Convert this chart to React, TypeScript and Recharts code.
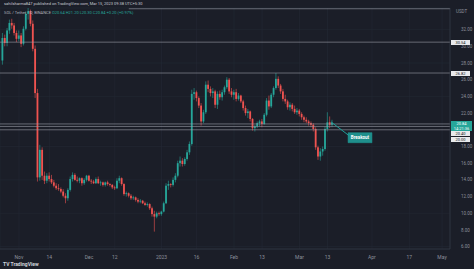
import React from 'react';
import {
  ComposedChart,
  Bar,
  XAxis,
  YAxis,
  CartesianGrid,
  ReferenceLine,
  ReferenceArea,
} from 'recharts';

// day 0 = Nov 1, 2022; first candle is Oct 25
const startDay = -7;

// [open, high, low, close]
const octCandles = [
  [28.3, 31.6, 27.8, 31.0],
  [31.0, 31.4, 30.0, 30.4],
  [30.4, 32.2, 30.0, 31.9],
  [31.9, 33.2, 31.5, 32.8],
  [32.8, 33.3, 32.1, 32.5],
  [32.5, 32.8, 31.3, 31.6],
  [31.6, 31.9, 30.5, 30.9],
];
const novCandles = [
  [30.9, 31.9, 30.6, 31.3],
  [31.3, 31.6, 29.9, 30.3],
  [30.3, 32.4, 30.1, 32.1],
  [32.1, 34.2, 31.9, 33.9],
  [33.9, 34.8, 33.2, 34.2],
  [34.2, 34.4, 32.4, 32.7],
  [32.7, 33.1, 29.4, 29.7],
  [29.7, 30.1, 23.8, 24.4],
  [24.4, 24.9, 13.8, 14.3],
  [14.3, 18.2, 13.9, 17.6],
  [17.6, 17.9, 14.0, 14.5],
  [14.5, 15.0, 13.5, 13.9],
  [13.9, 14.8, 13.6, 14.5],
  [14.5, 14.9, 13.8, 14.1],
  [14.1, 14.6, 13.5, 13.7],
  [13.7, 14.0, 13.1, 13.3],
  [13.3, 13.6, 12.8, 13.0],
  [13.0, 13.5, 12.7, 12.9],
  [12.9, 13.1, 12.4, 12.6],
  [12.6, 12.9, 11.9, 12.1],
  [12.1, 12.4, 11.2, 11.8],
  [11.8, 13.0, 11.5, 12.8],
  [12.8, 14.4, 12.6, 14.1],
  [14.1, 14.9, 13.8, 14.6],
  [14.6, 14.8, 13.9, 14.0],
  [14.0, 14.4, 13.7, 13.9],
  [13.9, 14.3, 13.6, 14.2],
  [14.2, 14.3, 13.3, 13.6],
  [13.6, 14.2, 13.4, 14.0],
  [14.0, 14.6, 13.8, 14.5],
];
const decCandles = [
  [14.5, 14.6, 13.8, 13.9],
  [13.9, 14.1, 13.5, 13.8],
  [13.8, 14.0, 13.5, 13.6],
  [13.6, 14.3, 13.5, 14.1],
  [14.1, 14.4, 13.5, 13.6],
  [13.6, 13.9, 13.3, 13.7],
  [13.7, 13.8, 13.2, 13.4],
  [13.4, 13.8, 13.2, 13.7],
  [13.7, 13.9, 13.3, 13.5],
  [13.5, 13.6, 13.2, 13.4],
  [13.4, 13.5, 12.9, 13.1],
  [13.1, 13.3, 12.8, 13.0],
  [13.0, 14.2, 12.9, 13.9],
  [13.9, 14.5, 13.6, 14.2],
  [14.2, 14.3, 13.3, 13.5],
  [13.5, 13.6, 12.1, 12.3],
  [12.3, 12.6, 12.0, 12.4],
  [12.4, 12.5, 11.9, 12.1],
  [12.1, 12.3, 11.6, 11.8],
  [11.8, 12.1, 11.6, 11.9],
  [11.9, 12.0, 11.4, 11.6],
  [11.6, 11.8, 11.2, 11.4],
  [11.4, 11.7, 11.2, 11.5],
  [11.5, 11.6, 11.1, 11.2],
  [11.2, 11.4, 10.9, 11.0],
  [11.0, 11.3, 10.8, 11.1],
  [11.1, 11.2, 10.4, 10.6],
  [10.6, 10.8, 9.6, 9.9],
  [9.9, 10.3, 7.8, 9.6],
  [9.6, 10.2, 9.4, 10.0],
  [10.0, 10.2, 9.7, 9.9],
];
const janCandles = [
  [9.9, 10.3, 9.7, 10.2],
  [10.2, 11.4, 10.1, 11.2],
  [11.2, 13.6, 11.1, 13.3],
  [13.3, 13.9, 12.8, 13.5],
  [13.5, 13.6, 13.1, 13.4],
  [13.4, 14.3, 13.2, 14.0],
  [14.0, 14.8, 13.7, 14.5],
  [14.5, 16.3, 14.3, 16.0],
  [16.0, 16.8, 15.6, 16.3],
  [16.3, 16.6, 15.6, 15.9],
  [15.9, 16.7, 15.7, 16.5],
  [16.5, 17.6, 16.3, 17.3],
  [17.3, 18.6, 17.0, 18.3],
  [18.3, 24.8, 18.1, 24.3],
  [24.3, 25.0, 23.6, 24.5],
  [24.5, 24.7, 23.4, 23.8],
  [23.8, 24.0, 22.6, 22.9],
  [22.9, 23.2, 20.5, 21.0],
  [21.0, 22.4, 20.8, 22.1],
  [22.1, 25.8, 21.9, 25.4],
  [25.4, 25.9, 24.5, 24.9],
  [24.9, 25.2, 24.0, 24.4],
  [24.4, 25.0, 23.8, 24.6],
  [24.6, 24.8, 22.6, 23.0],
  [23.0, 24.6, 22.5, 24.3],
  [24.3, 24.7, 23.6, 23.9],
  [23.9, 24.8, 23.5, 24.5],
  [24.5, 25.3, 24.2, 25.1],
  [25.1, 26.3, 24.9, 26.0],
  [26.0, 26.2, 24.3, 24.6],
  [24.6, 25.0, 23.9, 24.2],
];
const febCandles = [
  [24.2, 24.8, 23.6, 24.5],
  [24.5, 24.9, 23.4, 23.7],
  [23.7, 24.4, 23.5, 24.1],
  [24.1, 24.2, 23.2, 23.4],
  [23.4, 23.6, 22.3, 22.6],
  [22.6, 22.9, 21.7, 22.0],
  [22.0, 22.5, 21.4, 22.2],
  [22.2, 22.3, 21.0, 21.3],
  [21.3, 21.4, 19.9, 20.2],
  [20.2, 20.6, 19.8, 20.4],
  [20.4, 21.0, 20.2, 20.8],
  [20.8, 21.2, 20.4, 21.0],
  [21.0, 21.3, 20.3, 20.7],
  [20.7, 22.0, 20.6, 21.8],
  [21.8, 23.8, 21.6, 23.5],
  [23.5, 24.1, 22.4, 22.8],
  [22.8, 24.4, 22.6, 24.2],
  [24.2, 25.2, 23.9, 25.0],
  [25.0, 26.8, 24.8, 26.1],
  [26.1, 26.4, 25.0, 25.3],
  [25.3, 25.5, 24.3, 24.6],
  [24.6, 24.9, 23.4, 23.7],
  [23.7, 24.2, 23.1, 23.4],
  [23.4, 23.6, 22.4, 22.7],
  [22.7, 23.3, 22.3, 23.0],
  [23.0, 23.2, 22.2, 22.5],
  [22.5, 22.9, 21.9, 22.1],
  [22.1, 22.6, 21.8, 22.3],
];
const marCandles = [
  [22.3, 22.5, 21.6, 21.9],
  [21.9, 22.1, 21.2, 21.5],
  [21.5, 21.7, 20.9, 21.2],
  [21.2, 21.5, 20.8, 21.0],
  [21.0, 21.2, 20.5, 20.8],
  [20.8, 21.0, 20.3, 20.6],
  [20.6, 20.8, 19.8, 20.1],
  [20.1, 20.3, 17.6, 17.9],
  [17.9, 18.1, 16.4, 16.8],
  [16.8, 17.8, 16.3, 17.4],
  [17.4, 18.0, 16.9, 17.7],
  [17.7, 20.4, 17.5, 20.1],
  [20.1, 22.1, 19.8, 20.9],
  [20.9, 21.6, 20.2, 20.6],
  [20.6, 21.2, 20.3, 20.84],
];

const tickDays = [0, 13, 30, 41, 61, 76, 92, 104, 120, 132, 151, 167, 181];
const tickLabels = ['Nov', '14', 'Dec', '12', '2023', '16', 'Feb', '13', 'Mar', '13', 'Apr', '17', 'May'];
// 20.00 sits under the price labels, so it is left out as on the reference
const priceTicks = [6, 8, 10, 12, 14, 16, 18, 22, 24, 26, 28, 30, 32];

// horizontal levels drawn on the chart
const levels = [30.5, 26.8, 20.7, 20.4, 20.0];

const UP = '#26a69a';
const DOWN = '#ef5350';
const BG = '#1b1e28';
const TEXT = '#8c909b';

const data = [...octCandles, ...novCandles, ...decCandles, ...janCandles, ...febCandles, ...marCandles].map(
  ([open, high, low, close], i) => ({ day: startDay + i, open, high, low, close })
);

const Candle = (props: any) => {
  const { x, y, width, height, payload } = props;
  const { open, high, low, close } = payload;
  const color = close >= open ? UP : DOWN;
  const cx = x + width / 2;
  const k = high === low ? 0 : height / (high - low);
  const top = y + (high - Math.max(open, close)) * k;
  const h = Math.max(Math.abs(open - close) * k, 0.7);
  return (
    <g>
      <line x1={cx} x2={cx} y1={y} y2={y + height} stroke={color} strokeWidth={0.6} />
      <rect x={cx - 0.9} y={top} width={1.8} height={h} fill={color} />
    </g>
  );
};

const axisBox = (top: number, text: string) => (
  <div
    style={{
      position: 'absolute',
      left: 451,
      top,
      width: 19,
      height: 5,
      background: '#e8e9ec',
      color: '#131722',
      fontSize: 4,
      lineHeight: '5px',
      textAlign: 'center',
    }}
  >
    {text}
  </div>
);

export default function App() {
  return (
    <div
      style={{
        position: 'absolute',
        left: 0,
        top: 0,
        width: 474,
        height: 269,
        background: BG,
        fontFamily: 'Roboto, sans-serif',
        overflow: 'hidden',
      }}
    >
      <ComposedChart width={474} height={269} data={data} margin={{ top: 8, right: 0, bottom: 7, left: 0 }}>
        <CartesianGrid stroke="#242834" strokeWidth={0.6} />
        <XAxis
          type="number"
          dataKey="day"
          domain={[-8.1, 184.4]}
          allowDataOverflow
          ticks={tickDays}
          tickFormatter={(v) => tickLabels[tickDays.indexOf(v)]}
          tickLine={false}
          axisLine={{ stroke: '#3a3e4a', strokeWidth: 0.6 }}
          tick={{ fontSize: 5, fill: TEXT }}
          tickMargin={0}
          height={13}
        />
        <YAxis
          orientation="right"
          domain={[5.72, 34.59]}
          allowDataOverflow
          ticks={priceTicks}
          tickFormatter={(v) => v.toFixed(2)}
          tickLine={false}
          axisLine={{ stroke: '#3a3e4a', strokeWidth: 0.6 }}
          tick={{ fontSize: 4.5, fill: TEXT }}
          tickMargin={5}
          width={24}
        />
        <ReferenceLine
          segment={[
            { x: 47, y: 34.5 },
            { x: 184.4, y: 34.5 },
          ]}
          stroke="#8a8e99"
          strokeWidth={0.7}
        />
        {levels.map((v) => (
          <ReferenceLine key={v} y={v} stroke="#9a9ea8" strokeWidth={0.6} />
        ))}
        <Bar dataKey={(d: any) => [d.low, d.high]} barSize={2} shape={Candle} isAnimationActive={false} />
        <ReferenceLine
          segment={[
            { x: 133.5, y: 20.95 },
            { x: 141.2, y: 19.3 },
          ]}
          stroke="#1f9e98"
          strokeWidth={1}
        />
        <ReferenceArea
          x1={140.8}
          x2={151}
          y1={18.45}
          y2={19.65}
          fill="#1f8f8c"
          fillOpacity={1}
          stroke="#1f9e98"
          strokeWidth={0.5}
          label={{ value: 'Breakout', fill: '#ffffff', fontSize: 4.5, fontWeight: 700, position: 'center' }}
        />
      </ComposedChart>

      <div style={{ position: 'absolute', left: 4, top: 1, fontSize: 4, color: '#c7cad2', whiteSpace: 'nowrap' }}>
        sahilsharma847 published on TradingView.com, Mar 15, 2023 09:38 UTC+5:30
      </div>
      <div style={{ position: 'absolute', left: 4, top: 10, fontSize: 4, color: '#b2b5be', whiteSpace: 'nowrap' }}>
        SOL / Tether, 1D, BINANCE{' '}
        <span style={{ color: UP }}>O20.64 H21.20 L20.30 C20.84 +0.20 (+0.97%)</span>
      </div>
      <div style={{ position: 'absolute', left: 456, top: 9, fontSize: 4.5, color: TEXT }}>USDT</div>

      {axisBox(39.5, '30.54')}
      {axisBox(70.5, '26.82')}
      <div
        style={{
          position: 'absolute',
          left: 451,
          top: 120.5,
          width: 21,
          height: 10,
          background: UP,
          color: '#fff',
          fontSize: 4,
          lineHeight: '5px',
          textAlign: 'center',
        }}
      >
        <div>20.84</div>
        <div>14:21:36</div>
      </div>
      {axisBox(131, '20.40')}
      {axisBox(136.5, '20.00')}

      <div
        style={{
          position: 'absolute',
          left: 3,
          top: 261,
          fontSize: 5,
          fontWeight: 700,
          color: '#d1d4dc',
          whiteSpace: 'nowrap',
        }}
      >
        TV TradingView
      </div>
    </div>
  );
}
